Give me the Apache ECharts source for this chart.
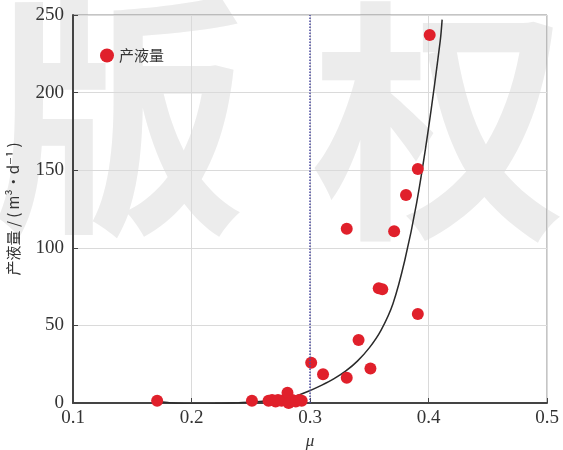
<!DOCTYPE html>
<html>
<head>
<meta charset="utf-8">
<script src="https://cdn.jsdelivr.net/npm/echarts@6/dist/echarts.min.js"></script>
<style>html,body{margin:0;padding:0;background:#fff}#c{width:563px;height:450px}</style>
</head>
<body>
<div id="c"></div>
<script>
// Measured points: μ and liquid production (m³/d)
const muValues   = [0.171,0.251,0.265,0.268,0.271,0.273,0.276,0.280,0.281,0.282,0.285,0.288,0.291,0.293,0.301,0.311,0.331,0.331,0.341,0.351,0.358,0.361,0.371,0.381,0.391,0.391,0.401];
const rateValues = [1.5,1.5,1.5,2,1,2,1.5,1.5,6.6,0,2,1,2,1.5,26,18.6,16.3,112.3,40.6,22.3,73.9,73.3,110.6,134,57.3,150.8,237.1];
// Fitted curve
const fitMu   = [0.17,0.18,0.19,0.20,0.21,0.22,0.23,0.24,0.25,0.26,0.27,0.28,0.29,0.30,0.31,0.32,0.33,0.34,0.35,0.36,0.37,0.38,0.39,0.40,0.41,0.4115];
const fitRate = [1.0,0.3,-0.3,-0.6,-0.6,-0.4,-0.1,0.2,0.6,1.2,2.0,3.2,5.0,8.0,11.5,15.5,20.5,27,35.5,47,64,92,129,177,234,247];
const xTicks = [0.1,0.2,0.3,0.4,0.5];
const yTicks = [0,50,100,150,200,250];
const legendName = '产液量';
const yName = '产液量 / ( m³·d⁻¹ )';
const xName = 'μ';
const refMu = 0.3;

const chart = echarts.init(document.getElementById('c'), null, {renderer:'canvas'});
const serif = 'Liberation Serif, DejaVu Serif, serif';
chart.setOption({
  animation:false,
  backgroundColor:'#fff',
  graphic:[
    {type:'text', left:-8, top:-12, z:-10, silent:true,
     style:{text:'版', fill:'#ececec', font:'bold 255px "Noto Sans CJK SC"'}},
    {type:'text', left:312, top:-6, z:-10, silent:true,
     style:{text:'权', fill:'#ececec', font:'bold 255px "Noto Sans CJK SC"'}}
  ],
  grid:{left:73,right:16,top:15,bottom:47,outerBoundsMode:'none',containLabel:false,
        show:true,borderColor:'#8a8a8a',borderWidth:1,backgroundColor:'transparent'},
  legend:{
    left:95, top:43, itemWidth:14, itemHeight:14, itemGap:4,
    data:[{name:legendName, icon:'circle'}],
    textStyle:{fontSize:15, color:'#333', fontFamily:'"Noto Sans CJK SC"'}
  },
  xAxis:{
    type:'value', min:xTicks[0], max:xTicks[xTicks.length-1], interval:0.1,
    name:xName, nameLocation:'middle', nameGap:30,
    nameTextStyle:{fontSize:17, fontStyle:'italic', color:'#333', fontFamily:serif},
    axisLine:{show:true, onZero:false, lineStyle:{color:'#444', width:2}},
    axisTick:{show:true, inside:true, length:5, lineStyle:{color:'#444'}},
    axisLabel:{fontSize:19, color:'#333', fontFamily:serif, margin:6,
      formatter:v=>v.toFixed(1)},
    splitLine:{show:true, lineStyle:{color:'#dadada', width:1}}
  },
  yAxis:{
    type:'value', min:yTicks[0], max:yTicks[yTicks.length-1], interval:50,
    name:yName, nameLocation:'middle', nameGap:52,
    nameTextStyle:{fontSize:15, color:'#333', fontFamily:'"Noto Sans CJK SC", '+serif},
    axisLine:{show:true, lineStyle:{color:'#444', width:2}},
    axisTick:{show:true, inside:true, length:5, lineStyle:{color:'#444'}},
    axisLabel:{fontSize:19, color:'#333', fontFamily:serif, margin:9},
    splitLine:{show:true, lineStyle:{color:'#dadada', width:1}}
  },
  series:[
    {
      name:'fit', type:'line', data:fitMu.map((m,i)=>[m,fitRate[i]]),
      showSymbol:false, smooth:0.3, silent:true, z:3,
      lineStyle:{color:'#2a2a2a', width:1.5},
      markLine:{
        silent:true, symbol:'none', label:{show:false},
        lineStyle:{color:'#4a4aa0', type:'dotted', width:1.5},
        data:[{xAxis:refMu}]
      }
    },
    {
      name:legendName, type:'scatter', data:muValues.map((m,i)=>[m,rateValues[i]]),
      symbolSize:12, z:4,
      itemStyle:{color:'#e0202b', opacity:1}
    }
  ]
});
</script>
</body>
</html>
